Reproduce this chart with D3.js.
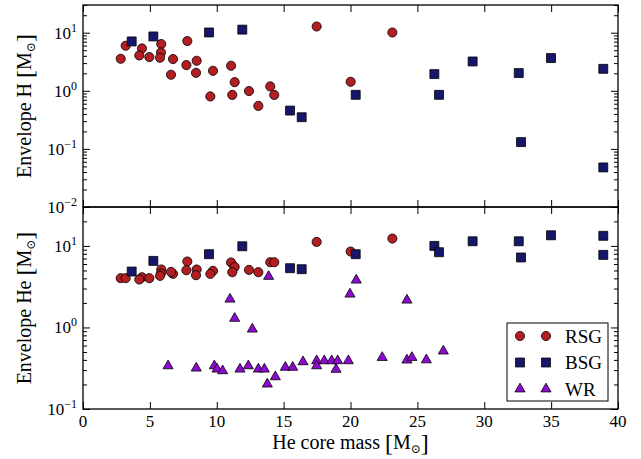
<!DOCTYPE html>
<html>
<head>
<meta charset="utf-8">
<script src="https://cdn.jsdelivr.net/npm/d3@7"></script>
<style>
  body { margin: 0; background: #fff; }
  svg text { font-family: "Liberation Serif", "DejaVu Serif", serif; }
</style>
</head>
<body>
<div id="chart"></div>
<script>
// RSG stars: He core mass, H envelope, He envelope
var rsgMass = [2.82, 3.19, 4.41, 4.21, 4.96, 5.85, 5.83, 5.76, 6.73, 7.80, 7.73, 8.50, 6.58,
  8.45, 9.72, 11.07, 11.34, 9.52, 11.16, 12.41, 13.11, 14.0, 14.30, 17.47, 20.01, 23.13];
var rsgH = [3.56, 5.97, 5.36, 4.06, 3.81, 6.38, 4.57, 3.71, 3.52, 7.19, 2.77, 3.29, 1.89,
  2.04, 2.21, 2.70, 1.41, 0.80, 0.85, 0.99, 0.55, 1.19, 0.85, 12.8, 1.43, 10.1];
var rsgHe = [4.02, 4.02, 4.13, 3.87, 4.02, 5.14, 4.6, 4.29, 4.54, 6.44, 5.03, 5.14, 4.80,
  4.38, 4.94, 6.26, 5.53, 4.54, 4.76, 5.08, 4.76, 6.31, 6.31, 11.2, 8.53, 12.3];

// BSG stars
var bsgMass = [3.64, 5.26, 9.42, 11.91, 15.48, 16.35, 20.39, 26.27, 26.62, 29.13, 32.58, 32.75, 34.99, 38.9, 38.9];
var bsgH = [7.08, 8.63, 10.1, 11.3, 0.457, 0.351, 0.853, 1.94, 0.853, 3.20, 2.02, 0.131, 3.66, 2.39, 0.048];
var bsgHe = [4.85, 6.55, 7.91, 9.9, 5.33, 5.18, 7.91, 10.0, 8.37, 11.4, 11.4, 7.21, 13.5, 13.3, 7.76];

// WR stars (no H envelope)
var wrMass = [6.36, 8.47, 9.82, 10.02, 10.44, 10.99, 11.34, 11.74, 12.36, 12.66, 13.11, 13.56,
  13.78, 13.88, 14.38, 15.13, 15.68, 16.45, 17.47, 17.47, 18.04, 18.59, 18.92, 19.04, 19.84,
  19.96, 20.43, 22.37, 24.22, 24.59, 24.22, 25.67, 26.94];
var wrHe = [0.338, 0.317, 0.338, 0.308, 0.294, 2.22, 1.29, 0.308, 0.338, 0.953, 0.308, 0.308,
  0.202, 4.22, 0.248, 0.324, 0.324, 0.379, 0.39, 0.338, 0.39, 0.39, 0.306, 0.39, 0.39,
  2.56, 3.80, 0.428, 0.398, 0.428, 2.16, 0.40, 0.513];

var xTicks = [0, 5, 10, 15, 20, 25, 30, 35, 40];
var topDecades = [0.01, 0.1, 1, 10];
var botDecades = [0.1, 1, 10];
var legendNames = ["RSG", "BSG", "WR"];

var width = 641, height = 459;
var padL = 83, padR = 618, padT = 5, padM = 207, padB = 409;

var red = "#b31e23", navy = "#16166b", violet = "#8e0ad0";

var svg = d3.select("#chart").append("svg")
  .attr("width", width)
  .attr("height", height);

var x = d3.scaleLinear().domain([0, 40]).range([padL, padR]);
var yTop = d3.scaleLog().domain([0.01, 30]).range([padM, padT]);
var yBot = d3.scaleLog().domain([0.1, 30]).range([padB, padM]);

function minorTicks(scale) {
  var d = scale.domain();
  var out = [];
  scale.ticks().forEach(function (t) {
    var lg = Math.log10(t);
    if (Math.abs(lg - Math.round(lg)) > 1e-6) out.push(t);
  });
  return out.filter(function (t) { return t >= d[0] && t <= d[1]; });
}

function drawPanel(y, y0, y1, decades, showXLabels) {
  var g = svg.append("g");

  // x ticks bottom and top, pointing in
  g.append("g").attr("transform", "translate(0," + y1 + ")")
    .call(d3.axisBottom(x).tickValues(xTicks).tickSize(-7).tickFormat(""))
    .call(function (s) { s.select(".domain").remove(); });
  g.append("g").attr("transform", "translate(0," + y0 + ")")
    .call(d3.axisTop(x).tickValues(xTicks).tickSize(-7).tickFormat(""))
    .call(function (s) { s.select(".domain").remove(); });

  // y ticks, major + minor on both sides
  g.append("g").attr("transform", "translate(" + padL + ",0)")
    .call(d3.axisLeft(y).tickValues(decades).tickSize(-7).tickFormat(""))
    .call(function (s) { s.select(".domain").remove(); });
  g.append("g").attr("transform", "translate(" + padL + ",0)")
    .call(d3.axisLeft(y).tickValues(minorTicks(y)).tickSize(-4).tickFormat(""))
    .call(function (s) { s.select(".domain").remove(); });
  g.append("g").attr("transform", "translate(" + padR + ",0)")
    .call(d3.axisRight(y).tickValues(decades).tickSize(-7).tickFormat(""))
    .call(function (s) { s.select(".domain").remove(); });
  g.append("g").attr("transform", "translate(" + padR + ",0)")
    .call(d3.axisRight(y).tickValues(minorTicks(y)).tickSize(-4).tickFormat(""))
    .call(function (s) { s.select(".domain").remove(); });

  g.selectAll(".tick line").attr("stroke", "#000").attr("stroke-width", 1);

  // y tick labels 10^n
  decades.forEach(function (d) {
    var e = Math.round(Math.log10(d));
    var t = g.append("text")
      .attr("x", padL - 6)
      .attr("y", y(d) + 6)
      .attr("text-anchor", "end")
      .style("font-size", "17px");
    t.append("tspan").text("10");
    t.append("tspan").attr("dy", -7).style("font-size", "12px")
      .text(e < 0 ? "\u2212" + (-e) : "" + e);
  });

  if (showXLabels) {
    xTicks.forEach(function (v) {
      g.append("text")
        .attr("x", x(v))
        .attr("y", y1 + 18)
        .attr("text-anchor", "middle")
        .style("font-size", "17px")
        .text(v);
    });
  }

  // frame
  g.append("rect")
    .attr("x", padL).attr("y", y0)
    .attr("width", padR - padL).attr("height", y1 - y0)
    .attr("fill", "none").attr("stroke", "#000").attr("stroke-width", 1.3);
  return g;
}

var gTop = drawPanel(yTop, padT, padM, topDecades, false);
var gBot = drawPanel(yBot, padM, padB, botDecades, true);

var circle = d3.symbol().type(d3.symbolCircle).size(66);
var square = d3.symbol().type(d3.symbolSquare).size(80);
var tri = d3.symbol().type(d3.symbolTriangle).size(44);

function plot(g, xs, ys, y, sym, fill) {
  g.append("g").selectAll("path")
    .data(xs.map(function (m, i) { return [m, ys[i]]; }))
    .enter()
    .append("path")
    .attr("d", sym)
    .attr("transform", function (d) { return "translate(" + x(d[0]) + "," + y(d[1]) + ")"; })
    .attr("fill", fill)
    .attr("stroke", "#000")
    .attr("stroke-width", 0.8);
}

plot(gTop, rsgMass, rsgH, yTop, circle, red);
plot(gTop, bsgMass, bsgH, yTop, square, navy);
plot(gBot, rsgMass, rsgHe, yBot, circle, red);
plot(gBot, bsgMass, bsgHe, yBot, square, navy);
plot(gBot, wrMass, wrHe, yBot, tri, violet);

// legend
var leg = svg.append("g");
leg.append("rect")
  .attr("x", 507).attr("y", 323).attr("width", 101).attr("height", 78)
  .attr("fill", "#fff").attr("stroke", "#000").attr("stroke-width", 1);
var legSyms = [circle, square, tri];
var legFill = [red, navy, violet];
legendNames.forEach(function (n, i) {
  var yy = 336 + i * 26.5;
  [520, 546].forEach(function (xx) {
    leg.append("path")
      .attr("d", legSyms[i])
      .attr("transform", "translate(" + xx + "," + yy + ")")
      .attr("fill", legFill[i]).attr("stroke", "#000").attr("stroke-width", 0.8);
  });
  leg.append("text")
    .attr("x", 565).attr("y", yy + 6.5)
    .style("font-size", "19px")
    .text(n);
});

// axis titles, with taller brackets like \left[ ... \right]
function massLabel(sel, pre) {
  sel.append("tspan").text(pre);
  sel.append("tspan").style("font-size", "24px").attr("dy", 2).text("[");
  sel.append("tspan").attr("dy", -2).text("M");
  sel.append("tspan").attr("dy", 4).style("font-size", "12px").text("\u2299");
  sel.append("tspan").attr("dy", -2).style("font-size", "24px").text("]");
}

var xt = svg.append("text")
  .attr("x", (padL + padR) / 2).attr("y", 449)
  .attr("text-anchor", "middle")
  .style("font-size", "20px");
massLabel(xt, "He core mass ");

var yt1 = svg.append("text")
  .attr("transform", "translate(31," + (padT + padM) / 2 + ") rotate(-90)")
  .attr("text-anchor", "middle")
  .style("font-size", "20px");
massLabel(yt1, "Envelope H ");

var yt2 = svg.append("text")
  .attr("transform", "translate(31," + (padM + padB) / 2 + ") rotate(-90)")
  .attr("text-anchor", "middle")
  .style("font-size", "20px");
massLabel(yt2, "Envelope He ");
</script>
</body>
</html>
